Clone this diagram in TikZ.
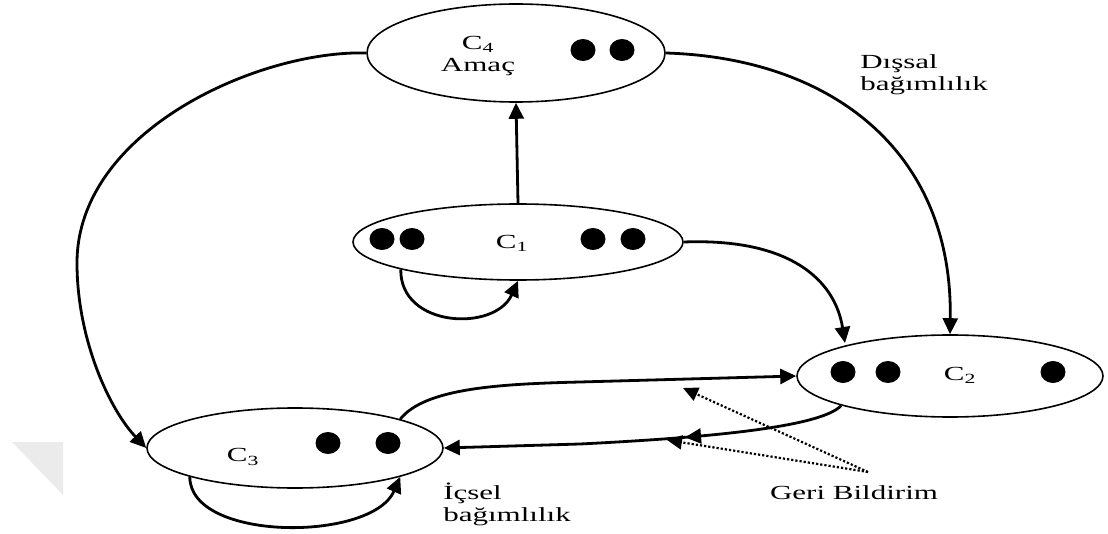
\documentclass[tikz,border=0pt]{standalone}
\usepackage{fontspec}
\setmainfont{Liberation Serif}
\usetikzlibrary{arrows.meta,decorations.markings,shapes.geometric}

\begin{document}
\begin{tikzpicture}[x=1pt,y=-1pt,
  cluster/.style={draw,ellipse,line width=1.6pt,inner sep=0pt,fill=white},
  elem/.style={fill=black,ellipse,inner sep=0pt,minimum width=25pt,minimum height=22pt},
  lbl/.style={font=\fontsize{20}{22}\selectfont,xscale=1.55,inner sep=0pt,align=left},
  tip/.style={-{Triangle[length=16pt,width=15pt]}},
  conn/.style={line width=2.8pt,tip},
  fb/.style={line width=2.2pt,dotted,-{Triangle[length=15pt,width=14pt]}}
]
\useasboundingbox (0,0) rectangle (1108,534);

% faint corner mark
\fill[black!8] (12,442) -- (63,442) -- (63,495) -- cycle;

% clusters
\node[cluster,minimum width=298pt,minimum height=98pt] (c4) at (516,53) {};
\node[cluster,minimum width=330pt,minimum height=76pt] (c1) at (518,242) {};
\node[cluster,minimum width=296pt,minimum height=80pt] (c3) at (295,448) {};
\node[cluster,minimum width=306pt,minimum height=82pt] (c2) at (950,376) {};

% cluster labels
\node[lbl,align=center] (t4) at (478,56) {C\textsubscript{4}\\Amaç};
\node[lbl] (t1) at (512,243) {C\textsubscript{1}};
\node[lbl] (t3) at (243,457) {C\textsubscript{3}};
\node[lbl] (t2) at (960,375) {C\textsubscript{2}};

% elements
\node[elem] (e41) at (583,50) {};
\node[elem] (e42) at (622,50) {};
\node[elem] (e11) at (382,239) {};
\node[elem] (e12) at (412,239) {};
\node[elem] (e13) at (593,239) {};
\node[elem] (e14) at (633,239) {};
\node[elem] (e31) at (328,443) {};
\node[elem] (e32) at (388,443) {};
\node[elem] (e21) at (843,372) {};
\node[elem] (e22) at (888,372) {};
\node[elem] (e23) at (1053,372) {};

% outer dependence
\draw[conn] (c1.north) -- (c4.south);
\draw[conn] (c4.west) .. controls (260,50) and (77,130) .. (77,263)
  .. controls (77,340) and (110,410) .. (c3.west);
\draw[conn] (c4.east) .. controls (830,58) and (953,150) .. (c2.north);
\draw[conn] (c1.east) .. controls (790,238) and (835,280) .. (845,343);

% feedback between C3 and C2
\draw[conn] (c3.north east) .. controls (425,388) and (500,384) .. (580,382) -- (c2.west);
\draw[line width=2.8pt,tip,
  decoration={markings,mark=at position 0.4 with {\arrow{Triangle[length=16pt,width=15pt]}}},
  postaction={decorate}]
  (c2.south west) .. controls (820,428) and (700,438) .. (580,444) -- (c3.east);

% inner dependence loops
\draw[conn] (c1.south west) .. controls (400,328) and (495,332) .. (c1.south);
\draw[conn] (c3.south west) .. controls (190,542) and (372,542) .. (c3.south east);

% feedback pointers
\coordinate (fbs) at (868,472);
\coordinate (fbA) at (683,388);
\coordinate (fbB) at (667,440);
\draw[fb] (fbs) -- (fbA);
\draw[fb] (fbs) -- (fbB);

% annotations
\node[lbl,anchor=west] (dis) at (860,75) {Dışsal\\bağımlılık};
\node[lbl,anchor=west] (ic) at (443,504) {İçsel\\bağımlılık};
\node[lbl] (geri) at (854,493) {Geri Bildirim};
\end{tikzpicture}
\end{document}
